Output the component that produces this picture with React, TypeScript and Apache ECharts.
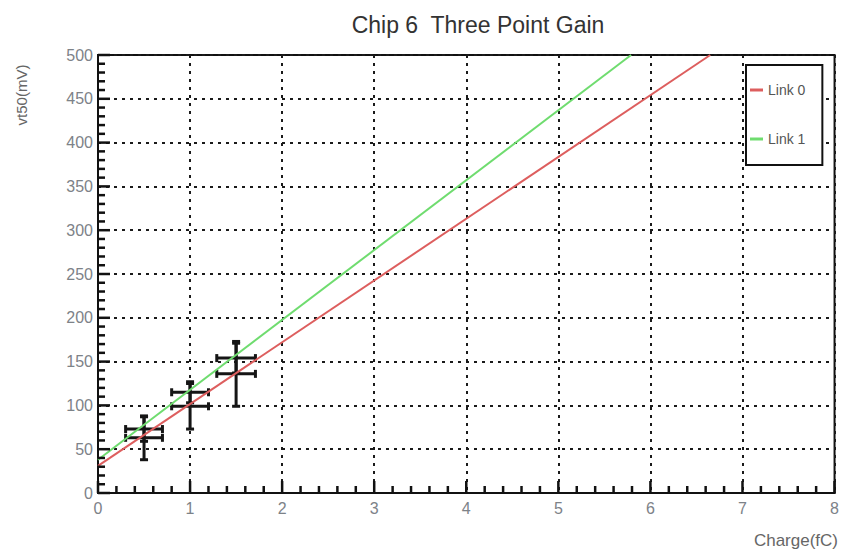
import React, { useEffect, useRef } from "react";
import * as echarts from "echarts";

// Charge points (fC) where the threshold scans were taken
const chargeFC = [0.5, 1.0, 1.5];
const chargeErr = [0.2, 0.2, 0.21];

// vt50 measurements (mV) and their errors, per link
const link0Vt50 = [63, 99, 136];
const link0Err = [25, 26, 37];
const link1Vt50 = [73, 115, 154];
const link1Err = [14, 12, 17];

// Linear gain fits, as [charge, vt50] end points within the frame
const link0Fit = [
  [0, 31],
  [6.65, 500],
];
const link1Fit = [
  [0, 38],
  [5.79, 500],
];

// Major tick values of both axes; each major step holds 5 minor divisions
const xMajorTicks = [0, 1, 2, 3, 4, 5, 6, 7, 8];
const yMajorTicks = [0, 50, 100, 150, 200, 250, 300, 350, 400, 450, 500];
const minorDivisions = 5;

const FONT = "'Liberation Sans', Arial, sans-serif";
const LABEL_COLOR = "#7d8288";
const FRAME = "#111";

function errorPoints(ys: number[], yErr: number[]) {
  return chargeFC.map((x, i) => [x, ys[i], chargeErr[i], yErr[i]]);
}

// Major and minor tick values between consecutive majors
function tickValues(majors: number[]) {
  const out: { v: number; major: boolean }[] = [];
  majors.forEach((v, i) => {
    out.push({ v, major: true });
    if (i < majors.length - 1) {
      const step = (majors[i + 1] - v) / minorDivisions;
      for (let k = 1; k < minorDivisions; k++) out.push({ v: v + k * step, major: false });
    }
  });
  return out;
}

// Inward ticks on the bottom and left axes, drawn as one group
function renderTicks(_params: any, api: any) {
  const style = { stroke: FRAME, lineWidth: 2.5 };
  const children: any[] = [];
  const x0 = xMajorTicks[0];
  const y0 = yMajorTicks[0];
  tickValues(xMajorTicks).forEach(({ v, major }) => {
    const p = api.coord([v, y0]);
    const len = major ? 12 : 7;
    children.push({ type: "line", shape: { x1: p[0], y1: p[1], x2: p[0], y2: p[1] - len }, style });
  });
  tickValues(yMajorTicks).forEach(({ v, major }) => {
    const p = api.coord([x0, v]);
    const len = major ? 12 : 7;
    children.push({ type: "line", shape: { x1: p[0], y1: p[1], x2: p[0] + len, y2: p[1] }, style });
  });
  return { type: "group", children };
}

function renderErrorBar(_params: any, api: any) {
  const x = api.value(0);
  const y = api.value(1);
  const ex = api.value(2);
  const ey = api.value(3);
  const left = api.coord([x - ex, y]);
  const right = api.coord([x + ex, y]);
  const top = api.coord([x, y + ey]);
  const bottom = api.coord([x, y - ey]);
  const cap = 4;
  const style = { stroke: "#151515", lineWidth: 3 };
  const seg = (x1: number, y1: number, x2: number, y2: number) => ({
    type: "line",
    shape: { x1, y1, x2, y2 },
    style,
  });
  return {
    type: "group",
    children: [
      seg(left[0], left[1], right[0], right[1]),
      seg(top[0], top[1], bottom[0], bottom[1]),
      seg(left[0], left[1] - cap, left[0], left[1] + cap),
      seg(right[0], right[1] - cap, right[0], right[1] + cap),
      seg(top[0] - cap, top[1], top[0] + cap, top[1]),
      seg(bottom[0] - cap, bottom[1], bottom[0] + cap, bottom[1]),
    ],
  };
}

export default function App() {
  const ref = useRef<HTMLDivElement>(null);

  useEffect(() => {
    if (!ref.current) return;
    const chart = echarts.init(ref.current, undefined, { renderer: "svg" });
    chart.setOption({
      animation: false,
      textStyle: { fontFamily: FONT },
      grid: {
        left: 98,
        right: 3,
        top: 55,
        bottom: 56,
        show: true,
        borderColor: FRAME,
        borderWidth: 2,
      },
      xAxis: {
        type: "value",
        min: xMajorTicks[0],
        max: xMajorTicks[xMajorTicks.length - 1],
        interval: 1,
        axisLine: { show: true, lineStyle: { color: FRAME, width: 2 } },
        axisTick: { show: false },
        splitLine: { show: true, lineStyle: { color: "#1a1a1a", width: 2, type: [3, 5] } },
        axisLabel: { show: true, color: LABEL_COLOR, fontSize: 16, margin: 7 },
      },
      yAxis: {
        type: "value",
        min: yMajorTicks[0],
        max: yMajorTicks[yMajorTicks.length - 1],
        interval: 50,
        axisLine: { show: true, lineStyle: { color: FRAME, width: 2 } },
        axisTick: { show: false },
        splitLine: { show: true, lineStyle: { color: "#1a1a1a", width: 2, type: [3, 5] } },
        axisLabel: { show: true, color: LABEL_COLOR, fontSize: 16, margin: 5 },
      },
      legend: {
        orient: "vertical",
        left: 746,
        top: 65,
        padding: [18, 17, 19, 4],
        itemGap: 35,
        itemWidth: 13,
        itemHeight: 3,
        icon: "rect",
        borderColor: FRAME,
        borderWidth: 2,
        backgroundColor: "#ffffff",
        textStyle: { color: "#555", fontSize: 14 },
        data: ["Link 0", "Link 1"],
        z: 10,
      },
      graphic: [
        {
          type: "text",
          x: 478,
          y: 25,
          style: {
            text: "Chip 6  Three Point Gain",
            fill: "#333",
            font: `23px ${FONT}`,
            align: "center",
            verticalAlign: "middle",
          },
        },
        {
          type: "text",
          x: 21,
          y: 95,
          rotation: Math.PI / 2,
          style: {
            text: "vt50(mV)",
            fill: "#666",
            font: `15px ${FONT}`,
            align: "center",
            verticalAlign: "middle",
          },
        },
        {
          type: "text",
          x: 838,
          y: 540,
          style: {
            text: "Charge(fC)",
            fill: "#666",
            font: `17px ${FONT}`,
            align: "right",
            verticalAlign: "middle",
          },
        },
      ],
      series: [
        {
          name: "axis ticks",
          type: "custom",
          renderItem: renderTicks,
          data: [[xMajorTicks[0], yMajorTicks[0]]],
          silent: true,
          z: 4,
        },
        {
          name: "Link 0 points",
          type: "custom",
          renderItem: renderErrorBar,
          data: errorPoints(link0Vt50, link0Err),
          z: 2,
        },
        {
          name: "Link 1 points",
          type: "custom",
          renderItem: renderErrorBar,
          data: errorPoints(link1Vt50, link1Err),
          z: 2,
        },
        {
          name: "Link 0",
          type: "line",
          data: link0Fit,
          showSymbol: false,
          color: "#dd5e5e",
          lineStyle: { color: "#dd5e5e", width: 2 },
          z: 3,
        },
        {
          name: "Link 1",
          type: "line",
          data: link1Fit,
          showSymbol: false,
          color: "#6fdc6f",
          lineStyle: { color: "#6fdc6f", width: 2 },
          z: 3,
        },
      ],
    });
    return () => chart.dispose();
  }, []);

  return <div ref={ref} style={{ width: 842, height: 549, position: "absolute", left: 0, top: 0 }} />;
}
